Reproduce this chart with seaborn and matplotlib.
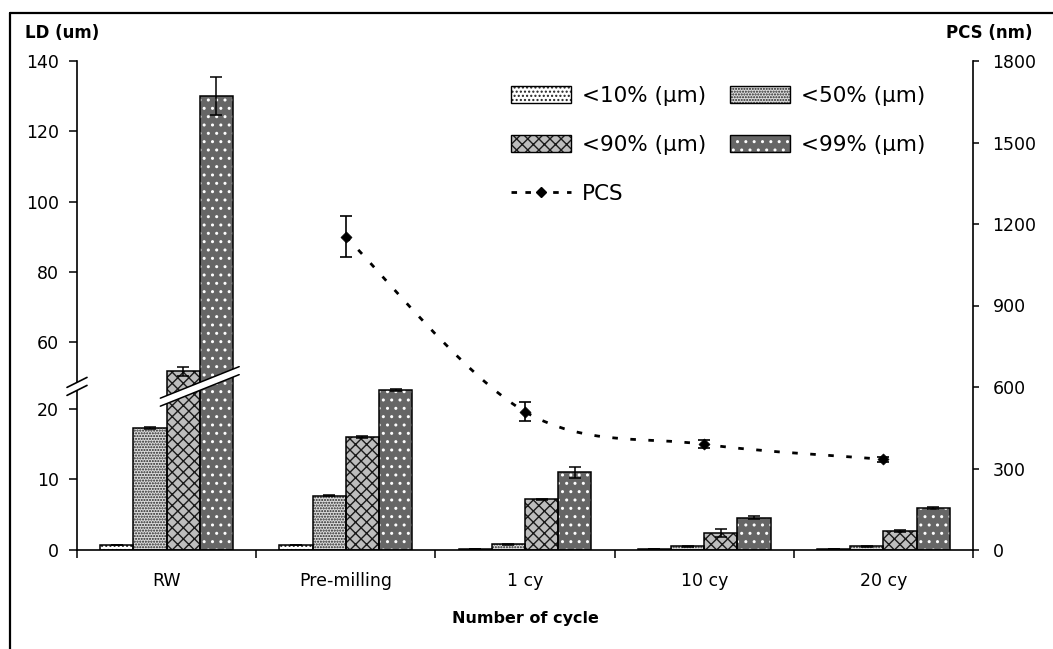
import numpy as np
import pandas as pd
import matplotlib
matplotlib.use("Agg")
import matplotlib.pyplot as plt
from matplotlib.lines import Line2D
from matplotlib.patches import Patch, Polygon, Rectangle, PathPatch
from matplotlib.path import Path
from matplotlib.ticker import FixedLocator, NullLocator
import seaborn as sns

# ---------------- data ----------------
categories = ["RW", "Pre-milling", "1 cy", "10 cy", "20 cy"]
size_classes = ["<10% (µm)", "<50% (µm)", "<90% (µm)", "<99% (µm)"]

d10 = [0.7, 0.7, 0.1, 0.1, 0.1]
d50 = [17.3, 7.7, 0.8, 0.5, 0.5]
d90 = [51.7, 16.0, 7.2, 2.4, 2.7]
d99 = [130.0, 22.7, 11.0, 4.6, 5.9]

d10_err = [0.05, 0.05, 0.02, 0.02, 0.02]
d50_err = [0.15, 0.1, 0.05, 0.05, 0.05]
d90_err = [1.2, 0.15, 0.1, 0.55, 0.1]
d99_err = [5.5, 0.2, 0.8, 0.2, 0.15]

pcs_categories = ["Pre-milling", "1 cy", "10 cy", "20 cy"]
pcs_nm = [1153, 509, 389, 334]
pcs_err = [75, 35, 15, 10]

ld_lower_ticks = [0, 10, 20]
ld_upper_ticks = [60, 80, 100, 120, 140]
pcs_ticks = [0, 300, 600, 900, 1200, 1500, 1800]

# ---------------- style ----------------
sns.set_theme(style="white")
plt.rcParams["font.family"] = ["DejaVu Sans"]
plt.rcParams["text.color"] = "black"
plt.rcParams["hatch.linewidth"] = 1.0

W, H = 1053, 649
fig = plt.figure(figsize=(W / 100, H / 100), dpi=100)
fig.patch.set_facecolor("white")

left, width = 77 / W, 896 / W
y_bottom = 1 - 550 / H
y_break = 1 - 386.4 / H
y_top = 1 - 61 / H

ax_low = fig.add_axes([left, y_bottom, width, y_break - y_bottom])
ax_up = fig.add_axes([left, y_break, width, y_top - y_break])
ax_pcs = fig.add_axes([left, y_bottom, width, y_top - y_bottom])

ld = pd.DataFrame({"cycle": categories,
                   size_classes[0]: d10, size_classes[1]: d50,
                   size_classes[2]: d90, size_classes[3]: d99})
ld_long = ld.melt(id_vars="cycle", var_name="size", value_name="LD")
errs = [d10_err, d50_err, d90_err, d99_err]
vals = [d10, d50, d90, d99]

bar_style = {
    size_classes[0]: dict(face="white", hatch="....", hcolor="#222222"),
    size_classes[1]: dict(face="#dcdcdc", hatch="......", hcolor="#222222"),
    size_classes[2]: dict(face="#bdbdbd", hatch="xxx", hcolor="#1a1a1a"),
    size_classes[3]: dict(face="#666666", hatch="..", hcolor="white"),
}

for ax in (ax_low, ax_up):
    sns.barplot(data=ld_long, x="cycle", y="LD", hue="size",
                order=categories, hue_order=size_classes,
                width=0.74, errorbar=None, legend=False, ax=ax)
    for cls, cont, v, e in zip(size_classes, ax.containers, vals, errs):
        st = bar_style[cls]
        xs = []
        for p in cont.patches:
            p.set_facecolor(st["face"])
            p.set_hatch(st["hatch"])
            p.set_edgecolor(st["hcolor"])
            p.set_linewidth(0)
            ax.add_patch(Rectangle(p.get_xy(), p.get_width(), p.get_height(),
                                   fill=False, edgecolor="black", linewidth=1.1,
                                   zorder=p.get_zorder() + 0.1))
            xs.append(p.get_x() + p.get_width() / 2)
        ax.errorbar(xs, v, yerr=e, fmt="none", ecolor="black",
                    elinewidth=1.1, capsize=4.5, capthick=1.1, zorder=5)
    ax.set_xlim(-0.5, len(categories) - 0.5)
    ax.set_facecolor("none")
    ax.set_xlabel("")
    ax.set_ylabel("")
    for s in ("top", "right"):
        ax.spines[s].set_visible(False)
    ax.spines["left"].set_color("black")
    ax.spines["left"].set_linewidth(1.2)
    ax.tick_params(axis="y", direction="out", length=6, width=1.1,
                   pad=7, labelsize=12.5, colors="black", left=True)

ax_low.set_ylim(0, 23.2)
ax_low.yaxis.set_major_locator(FixedLocator(ld_lower_ticks))
ax_up.set_ylim(47.4, 140)
ax_up.yaxis.set_major_locator(FixedLocator(ld_upper_ticks))
ax_up.spines["bottom"].set_visible(False)
ax_up.tick_params(axis="x", bottom=False, labelbottom=False)

ax_low.spines["bottom"].set_color("black")
ax_low.spines["bottom"].set_linewidth(1.2)
ax_low.xaxis.set_minor_locator(FixedLocator(np.arange(-0.5, len(categories), 1.0)))
ax_low.tick_params(axis="x", which="major", length=0, pad=16, labelsize=12.5,
                   colors="black")
ax_low.tick_params(axis="x", which="minor", bottom=True, direction="out",
                   length=6, width=1.1, color="black")
ax_low.set_xlabel("Number of cycle", fontsize=11.5, fontweight="bold",
                  labelpad=15, color="black")

# ---------------- PCS series on the right axis ----------------
ax_pcs.patch.set_visible(False)
ax_pcs.set_xlim(-0.5, len(categories) - 0.5)
ax_pcs.set_ylim(0, 1800)
for s in ("top", "left", "bottom"):
    ax_pcs.spines[s].set_visible(False)
ax_pcs.spines["right"].set_color("black")
ax_pcs.spines["right"].set_linewidth(1.2)
ax_pcs.yaxis.tick_right()
ax_pcs.yaxis.set_major_locator(FixedLocator(pcs_ticks))
ax_pcs.xaxis.set_major_locator(NullLocator())
ax_pcs.tick_params(axis="y", direction="out", length=4, width=1.1, pad=10,
                   labelsize=12.5, colors="black", right=True)

pcs_x = np.array([categories.index(c) for c in pcs_categories], dtype=float)
pts = np.column_stack([pcs_x, np.asarray(pcs_nm, dtype=float)])
verts, codes = [pts[0]], [Path.MOVETO]
n = len(pts)
for i in range(n - 1):
    p_prev, p0, p1, p_next = pts[max(i - 1, 0)], pts[i], pts[i + 1], pts[min(i + 2, n - 1)]
    verts += [p0 + (p1 - p_prev) / 6.0, p1 - (p_next - p0) / 6.0, p1]
    codes += [Path.CURVE4] * 3
ax_pcs.add_patch(PathPatch(Path(verts, codes), fill=False, edgecolor="black",
                           linewidth=2.0, linestyle=(0, (2, 4.5)), zorder=4))
ax_pcs.errorbar(pcs_x, pcs_nm, yerr=pcs_err, fmt="none", ecolor="black",
                elinewidth=1.2, capsize=4.5, capthick=1.2, zorder=5)
sns.scatterplot(x=pcs_x, y=pcs_nm, marker="D", s=32, color="black",
                edgecolor="black", legend=False, ax=ax_pcs, zorder=6)
ax_pcs.set_xlabel("")
ax_pcs.set_ylabel("")

# ---------------- legend ----------------
def bar_handle(cls):
    st = bar_style[cls]
    return (Patch(facecolor=st["face"], hatch=st["hatch"], edgecolor=st["hcolor"], linewidth=0),
            Patch(fill=False, edgecolor="black", linewidth=1.0))

pcs_handle = Line2D([], [], color="black", linestyle=(0, (2, 3)), linewidth=2,
                    marker="D", markersize=5)
handles = [bar_handle(size_classes[0]), bar_handle(size_classes[2]), pcs_handle,
           bar_handle(size_classes[1]), bar_handle(size_classes[3])]
labels = [size_classes[0], size_classes[2], "PCS", size_classes[1], size_classes[3]]
leg = ax_pcs.legend(handles, labels, ncol=2, loc="upper left",
                    bbox_to_anchor=(511 / W, 1 - 86 / H), bbox_transform=fig.transFigure,
                    frameon=False, fontsize=15.5, handlelength=2.8, handleheight=0.8,
                    handletextpad=0.5, columnspacing=1.1, labelspacing=1.35,
                    borderpad=0, borderaxespad=0)
for t in leg.get_texts():
    t.set_color("black")

# ---------------- axis titles ----------------
fig.text(25 / W, 1 - 33 / H, "LD (um)", fontsize=12, fontweight="bold",
         ha="left", va="center", color="black")
fig.text(1033 / W, 1 - 33 / H, "PCS (nm)", fontsize=12, fontweight="bold",
         ha="right", va="center", color="black")

# ---------------- axis break marks ----------------
to_fig = fig.transFigure.inverted()
bx, by = left, y_break
dx, dy = 10 / W, 5 / H
gap = 4 / H
fig.add_artist(Polygon([[bx - dx, by - dy - gap], [bx + dx, by + dy - gap],
                        [bx + dx, by + dy + gap], [bx - dx, by - dy + gap]],
                       closed=True, facecolor="white", edgecolor="none",
                       transform=fig.transFigure, zorder=20))
for off in (-gap, gap):
    fig.add_artist(Line2D([bx - dx, bx + dx], [by - dy + off, by + dy + off],
                          color="black", linewidth=1.2,
                          transform=fig.transFigure, zorder=21))

# diagonal cut across the tall RW bars
cont90, cont99 = ax_low.containers[2], ax_low.containers[3]
p90, p99 = cont90.patches[0], cont99.patches[0]
xl_disp = ax_low.transData.transform((p90.get_x() - 0.035, 0))[0]
xr_disp = ax_low.transData.transform((p99.get_x() + p99.get_width() + 0.035, 0))[0]
yb_disp = fig.transFigure.transform((0, y_break))[1]
xm_disp = 0.5 * (xl_disp + xr_disp)
slope = 0.4
half = 4.0
yl = yb_disp - slope * (xm_disp - xl_disp)
yr = yb_disp + slope * (xr_disp - xm_disp)
band = np.array([[xl_disp, yl - half], [xr_disp, yr - half],
                 [xr_disp, yr + half], [xl_disp, yl + half]])
band_f = to_fig.transform(band)
fig.add_artist(Polygon(band_f, closed=True, facecolor="white", edgecolor="none",
                       transform=fig.transFigure, zorder=20))
for a, b in ((band[0], band[1]), (band[3], band[2])):
    seg = to_fig.transform(np.array([a, b]))
    fig.add_artist(Line2D(seg[:, 0], seg[:, 1], color="black", linewidth=1.1,
                          transform=fig.transFigure, zorder=21))

# ---------------- outer frame (top and left edges) ----------------
fig.add_artist(Line2D([10 / W, 1.0], [1 - 13 / H, 1 - 13 / H], color="black",
                      linewidth=1.6, transform=fig.transFigure))
fig.add_artist(Line2D([10 / W, 10 / W], [0.0, 1 - 13 / H], color="black",
                      linewidth=1.6, transform=fig.transFigure))

fig.savefig("out.png", dpi=100, facecolor="white")
